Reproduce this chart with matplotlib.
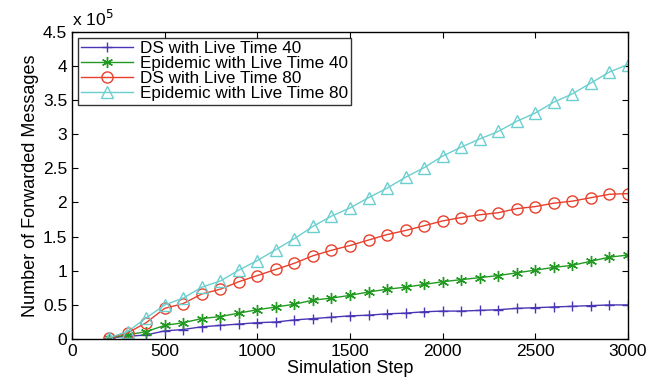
import numpy as np
import matplotlib
matplotlib.use("Agg")
import matplotlib.pyplot as plt

plt.rcParams['font.family'] = ['Liberation Sans', 'DejaVu Sans']

# simulation steps
steps = list(range(200, 3001, 100))

# values in units of 1e5
ds_40 = [0.02, 0.04, 0.06, 0.12, 0.14, 0.18, 0.20, 0.22, 0.24, 0.25, 0.28, 0.30, 0.32, 0.34, 0.35,
         0.37, 0.38, 0.40, 0.41, 0.41, 0.42, 0.43, 0.45, 0.46, 0.47, 0.48, 0.49, 0.50, 0.50]
epi_40 = [0.02, 0.06, 0.11, 0.20, 0.24, 0.30, 0.33, 0.38, 0.43, 0.47, 0.51, 0.57, 0.60, 0.64, 0.69,
          0.73, 0.76, 0.80, 0.84, 0.87, 0.90, 0.93, 0.97, 1.01, 1.05, 1.08, 1.14, 1.20, 1.23]
ds_80 = [0.02, 0.09, 0.24, 0.45, 0.52, 0.66, 0.73, 0.84, 0.93, 1.02, 1.11, 1.22, 1.30, 1.37, 1.45,
         1.53, 1.59, 1.66, 1.73, 1.78, 1.82, 1.85, 1.91, 1.94, 1.99, 2.02, 2.07, 2.12, 2.13]
epi_80 = [0.02, 0.11, 0.31, 0.50, 0.60, 0.76, 0.85, 1.01, 1.15, 1.31, 1.47, 1.65, 1.80, 1.92, 2.07,
          2.21, 2.37, 2.51, 2.68, 2.81, 2.93, 3.04, 3.19, 3.31, 3.47, 3.59, 3.75, 3.91, 4.02]

labels = ['DS with Live Time 40', 'Epidemic with Live Time 40',
          'DS with Live Time 80', 'Epidemic with Live Time 80']

fig = plt.figure(figsize=(6.61, 3.92), dpi=100)
ax = fig.add_axes([0.109, 0.135, 0.841, 0.784])

scale = 1e5
ax.plot(steps, np.array(ds_40) * scale, color='#4a35b5', marker='+', ms=7, lw=1, mew=1, label=labels[0])
ax.plot(steps, np.array(epi_40) * scale, color='#229a22', marker=(6, 2, 0), ms=8, lw=1, mew=1, label=labels[1])
ax.plot(steps, np.array(ds_80) * scale, color='#e8402c', marker='o', ms=8, lw=1, mew=1,
        mfc='none', label=labels[2])
ax.plot(steps, np.array(epi_80) * scale, color='#6ccfcf', marker='^', ms=8, lw=1, mew=1,
        mfc='none', label=labels[3])

ax.set_xlim(0, 3000)
ax.set_ylim(0, 4.5e5)
ax.set_xticks(np.arange(0, 3001, 500))
ax.set_yticks(np.arange(0, 4.51e5, 0.5e5))
ax.set_yticklabels(['0', '0.5', '1', '1.5', '2', '2.5', '3', '3.5', '4', '4.5'])
ax.tick_params(direction='in', labelsize=12.5, top=True, right=True, length=4)
for s in ax.spines.values():
    s.set_linewidth(1)

ax.text(0.0, 1.01, r'x 10$^5$', transform=ax.transAxes, fontsize=12.5, va='bottom', ha='left')

ax.set_xlabel('Simulation Step', fontsize=13, labelpad=1)
ax.set_ylabel('Number of Forwarded Messages', fontsize=13, labelpad=3)

leg = ax.legend(loc='upper left', fontsize=12.3, frameon=True, fancybox=False, edgecolor='black',
                handlelength=3.0, borderpad=0.2, labelspacing=0.0, handletextpad=0.4,
                borderaxespad=0.35, markerscale=1)
leg.get_frame().set_linewidth(1)

fig.savefig('out.png', dpi=100)
